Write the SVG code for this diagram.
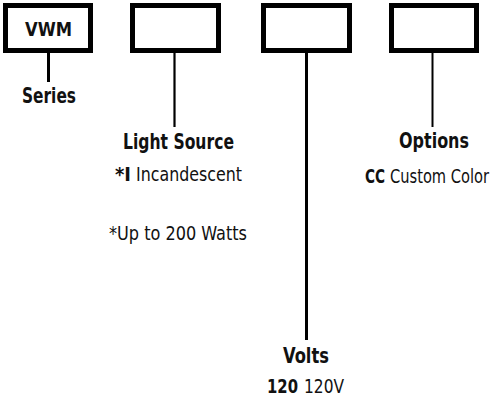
<svg xmlns="http://www.w3.org/2000/svg" width="500" height="399" viewBox="0 0 500 399">
<style>
.box{fill:#fff;stroke:#000;stroke-width:5}
.ln{stroke:#000}
text{font-family:"DejaVu Sans Condensed","DejaVu Sans","Liberation Sans",sans-serif;font-stretch:condensed;fill:#111;font-size:20px}
.b{font-weight:bold}
.h{font-size:21px}
</style>
<rect width="500" height="399" fill="#fff"/>
<g id="connectors">
<line class="ln" x1="48.5" y1="53" x2="48.5" y2="82" stroke-width="3"/>
<line class="ln" x1="174.5" y1="53" x2="174.5" y2="127" stroke-width="2.2"/>
<line class="ln" x1="306.5" y1="53" x2="306.5" y2="340" stroke-width="3"/>
<line class="ln" x1="432.5" y1="53" x2="432.5" y2="127" stroke-width="2"/>
</g>
<g id="series">
<rect class="box" x="5.5" y="5.5" width="85" height="45"/>
<text class="b" x="25" y="36" font-size="23" textLength="47" lengthAdjust="spacingAndGlyphs">VWM</text>
<text class="b h" x="22" y="103" textLength="54" lengthAdjust="spacingAndGlyphs">Series</text>
</g>
<g id="light-source">
<rect class="box" x="132.5" y="5.5" width="86" height="45"/>
<text class="b h" x="123" y="149" textLength="111" lengthAdjust="spacingAndGlyphs">Light Source</text>
<text x="115" y="181"><tspan class="b" textLength="16" lengthAdjust="spacingAndGlyphs">*I</tspan> <tspan x="136" textLength="106" lengthAdjust="spacingAndGlyphs">Incandescent</tspan></text>
<text x="109" y="240" textLength="138" lengthAdjust="spacingAndGlyphs">*Up to 200 Watts</text>
</g>
<g id="volts">
<rect class="box" x="263.5" y="5.5" width="86" height="45"/>
<text class="b h" x="283" y="363" textLength="46" lengthAdjust="spacingAndGlyphs">Volts</text>
<text x="267" y="393"><tspan class="b" textLength="31" lengthAdjust="spacingAndGlyphs">120</tspan> <tspan x="304" textLength="40" lengthAdjust="spacingAndGlyphs">120V</tspan></text>
</g>
<g id="options">
<rect class="box" x="391.5" y="5.5" width="85" height="45"/>
<text class="b h" x="399" y="148" textLength="70" lengthAdjust="spacingAndGlyphs">Options</text>
<text class="b" x="365" y="183" font-size="19" textLength="20" lengthAdjust="spacingAndGlyphs">CC</text>
<text x="489" y="183" font-size="18" text-anchor="end" textLength="99" lengthAdjust="spacingAndGlyphs">Custom Color</text>
</g>
</svg>
